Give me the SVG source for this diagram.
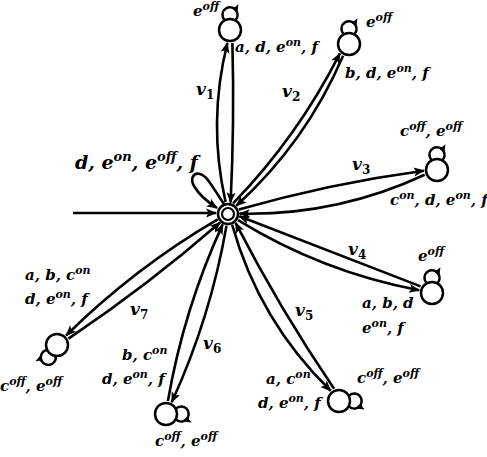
<svg xmlns="http://www.w3.org/2000/svg" width="487" height="457" viewBox="0 0 487 457">
<style>
.t{font-family:"DejaVu Serif","Liberation Serif",serif;font-weight:bold;font-style:italic;font-size:15px;fill:#000}
.s{font-size:11px}
.big{font-size:19px}
.bs{font-size:13px}
.v{font-size:17px}
.sub{font-size:12px;font-style:normal}
.e{fill:none;stroke:#000;stroke-width:2.6}
.lp{fill:none;stroke:#000;stroke-width:2.4;marker-mid:url(#al)}
.n{fill:#fff;stroke:#000;stroke-width:2.5}
</style>
<defs>
<marker id="ah" markerWidth="12" markerHeight="10" refX="10" refY="4.5" orient="auto" markerUnits="userSpaceOnUse" overflow="visible"><path d="M0,0 L11,4.5 L0,9 L2.5,4.5 z" fill="#000"/></marker>
<marker id="al" markerWidth="10" markerHeight="9" refX="7" refY="4" orient="auto" markerUnits="userSpaceOnUse" overflow="visible"><path d="M0,0 L8,4 L0,8 L1.5,4 z" fill="#000"/></marker>
</defs>
<g id="center"><circle class="n" cx="228" cy="214" r="10"/><circle fill="none" stroke="#000" stroke-width="2.2" cx="228" cy="214" r="6"/></g>
<g id="n1"><circle class="n" cx="230" cy="30" r="11"/></g>
<g id="n2"><circle class="n" cx="349" cy="44" r="11"/></g>
<g id="n3"><circle class="n" cx="437" cy="170" r="11"/></g>
<g id="n4"><circle class="n" cx="432" cy="293" r="11"/></g>
<g id="n5"><circle class="n" cx="339" cy="401" r="11"/></g>
<g id="n6"><circle class="n" cx="166" cy="414" r="11"/></g>
<g id="n7"><circle class="n" cx="57" cy="345" r="11"/></g>
<g id="connectors">
<path class="e" d="M73,213 L216,213" marker-end="url(#ah)"/>
<path class="e" d="M224,204 C214,190 208,176 200,174 C193,172 190,179 194,186 C198,193 206,201 217,208" marker-end="url(#ah)"/>
<path class="e" d="M225.6,202 Q207.5,122.5 227.4,43" marker-end="url(#ah)"/>
<path class="e" d="M232.4,43 Q234.5,122.5 230.6,202.5" marker-end="url(#ah)"/>
<path class="e" d="M233.1,203.4 Q297.9,136.5 339.9,53.4" marker-end="url(#ah)"/>
<path class="e" d="M343.1,55.8 Q306,142.4 236.3,205.8" marker-end="url(#ah)"/>
<path class="e" d="M238.8,209.6 Q329.9,183.3 423.9,170.7" marker-end="url(#ah)"/>
<path class="e" d="M424.7,174.7 Q336.7,215.7 239.6,213.6" marker-end="url(#ah)"/>
<path class="e" d="M238,220.1 Q322.1,271.9 419.2,290.2" marker-end="url(#ah)"/>
<path class="e" d="M420.6,286.4 Q330,251.35 239.4,216.3" marker-end="url(#ah)"/>
<path class="e" d="M232.2,224.9 Q259.1,321.1 330.7,390.8" marker-end="url(#ah)"/>
<path class="e" d="M334.1,388.8 Q279.7,308.9 235.6,222.9" marker-end="url(#ah)"/>
<path class="e" d="M226.5,225.6 Q210.6,317.5 171.7,402.2" marker-end="url(#ah)"/>
<path class="e" d="M167.9,401 Q183.8,309.1 222.7,224.4" marker-end="url(#ah)"/>
<path class="e" d="M217.7,219.4 Q134.6,267.9 66.1,335.5" marker-end="url(#ah)"/>
<path class="e" d="M68.5,338.7 Q147.9,285.4 220.1,222.6" marker-end="url(#ah)"/>
<path class="lp" d="M224.84,20.29 A7.5,7.5 0 1 1 237.05,12.28 A7.5,7.5 0 0 1 235.16,20.29"/>
<path class="lp" d="M343.84,34.29 A7.5,7.5 0 1 1 356.05,26.28 A7.5,7.5 0 0 1 354.16,34.29"/>
<path class="lp" d="M431.84,160.29 A7.5,7.5 0 1 1 444.05,152.28 A7.5,7.5 0 0 1 442.16,160.29"/>
<path class="lp" d="M426.84,283.29 A7.5,7.5 0 1 1 439.05,275.28 A7.5,7.5 0 0 1 437.16,283.29"/>
<path class="lp" d="M348.71,395.84 A7.5,7.5 0 1 1 356.72,408.05 A7.5,7.5 0 0 1 348.71,406.16"/>
<path class="lp" d="M175.71,408.84 A7.5,7.5 0 1 1 183.72,421.05 A7.5,7.5 0 0 1 175.71,419.16"/>
<path class="lp" d="M55.66,355.92 A7.5,7.5 0 1 1 41.06,355.47 A7.5,7.5 0 0 1 47.2,350"/>
</g>
<g id="labels">
<text class="t big" x="75" y="169">d, e<tspan class="bs" dy="-8">on</tspan><tspan dy="8">, e</tspan><tspan class="bs" dy="-8">off</tspan><tspan dy="8">, f</tspan></text>
<text class="t" x="193" y="16">e<tspan class="s" dy="-6">off</tspan></text>
<text class="t" x="235" y="52">a, d, e<tspan class="s" dy="-6">on</tspan><tspan dy="6">, f</tspan></text>
<text class="t" x="366" y="27">e<tspan class="s" dy="-6">off</tspan></text>
<text class="t" x="345" y="78">b, d, e<tspan class="s" dy="-6">on</tspan><tspan dy="6">, f</tspan></text>
<text class="t" x="400" y="136">c<tspan class="s" dy="-6">off</tspan><tspan dy="6">, e</tspan><tspan class="s" dy="-6">off</tspan></text>
<text class="t" x="390" y="205">c<tspan class="s" dy="-6">on</tspan><tspan dy="6">, d, e</tspan><tspan class="s" dy="-6">on</tspan><tspan dy="6">, f</tspan></text>
<text class="t" x="418" y="261">e<tspan class="s" dy="-6">off</tspan></text>
<text class="t" x="362" y="308">a, b, d</text>
<text class="t" x="362" y="333">e<tspan class="s" dy="-6">on</tspan><tspan dy="6">, f</tspan></text>
<text class="t" x="357" y="383">c<tspan class="s" dy="-6">off</tspan><tspan dy="6">, e</tspan><tspan class="s" dy="-6">off</tspan></text>
<text class="t" x="266" y="384">a, c<tspan class="s" dy="-6">on</tspan></text>
<text class="t" x="258" y="408">d, e<tspan class="s" dy="-6">on</tspan><tspan dy="6">, f</tspan></text>
<text class="t" x="122" y="360">b, c<tspan class="s" dy="-6">on</tspan></text>
<text class="t" x="102" y="384">d, e<tspan class="s" dy="-6">on</tspan><tspan dy="6">, f</tspan></text>
<text class="t" x="155" y="446">c<tspan class="s" dy="-6">off</tspan><tspan dy="6">, e</tspan><tspan class="s" dy="-6">off</tspan></text>
<text class="t" x="25" y="280">a, b, c<tspan class="s" dy="-6">on</tspan></text>
<text class="t" x="25" y="304">d, e<tspan class="s" dy="-6">on</tspan><tspan dy="6">, f</tspan></text>
<text class="t" x="0" y="391">c<tspan class="s" dy="-6">off</tspan><tspan dy="6">, e</tspan><tspan class="s" dy="-6">off</tspan></text>
<text class="t v" x="196" y="95">v<tspan class="sub" dy="4">1</tspan></text>
<text class="t v" x="282" y="97">v<tspan class="sub" dy="4">2</tspan></text>
<text class="t v" x="352" y="170">v<tspan class="sub" dy="4">3</tspan></text>
<text class="t v" x="348" y="255">v<tspan class="sub" dy="4">4</tspan></text>
<text class="t v" x="295" y="316">v<tspan class="sub" dy="4">5</tspan></text>
<text class="t v" x="203" y="349">v<tspan class="sub" dy="4">6</tspan></text>
<text class="t v" x="130" y="315">v<tspan class="sub" dy="4">7</tspan></text>
</g>
</svg>
